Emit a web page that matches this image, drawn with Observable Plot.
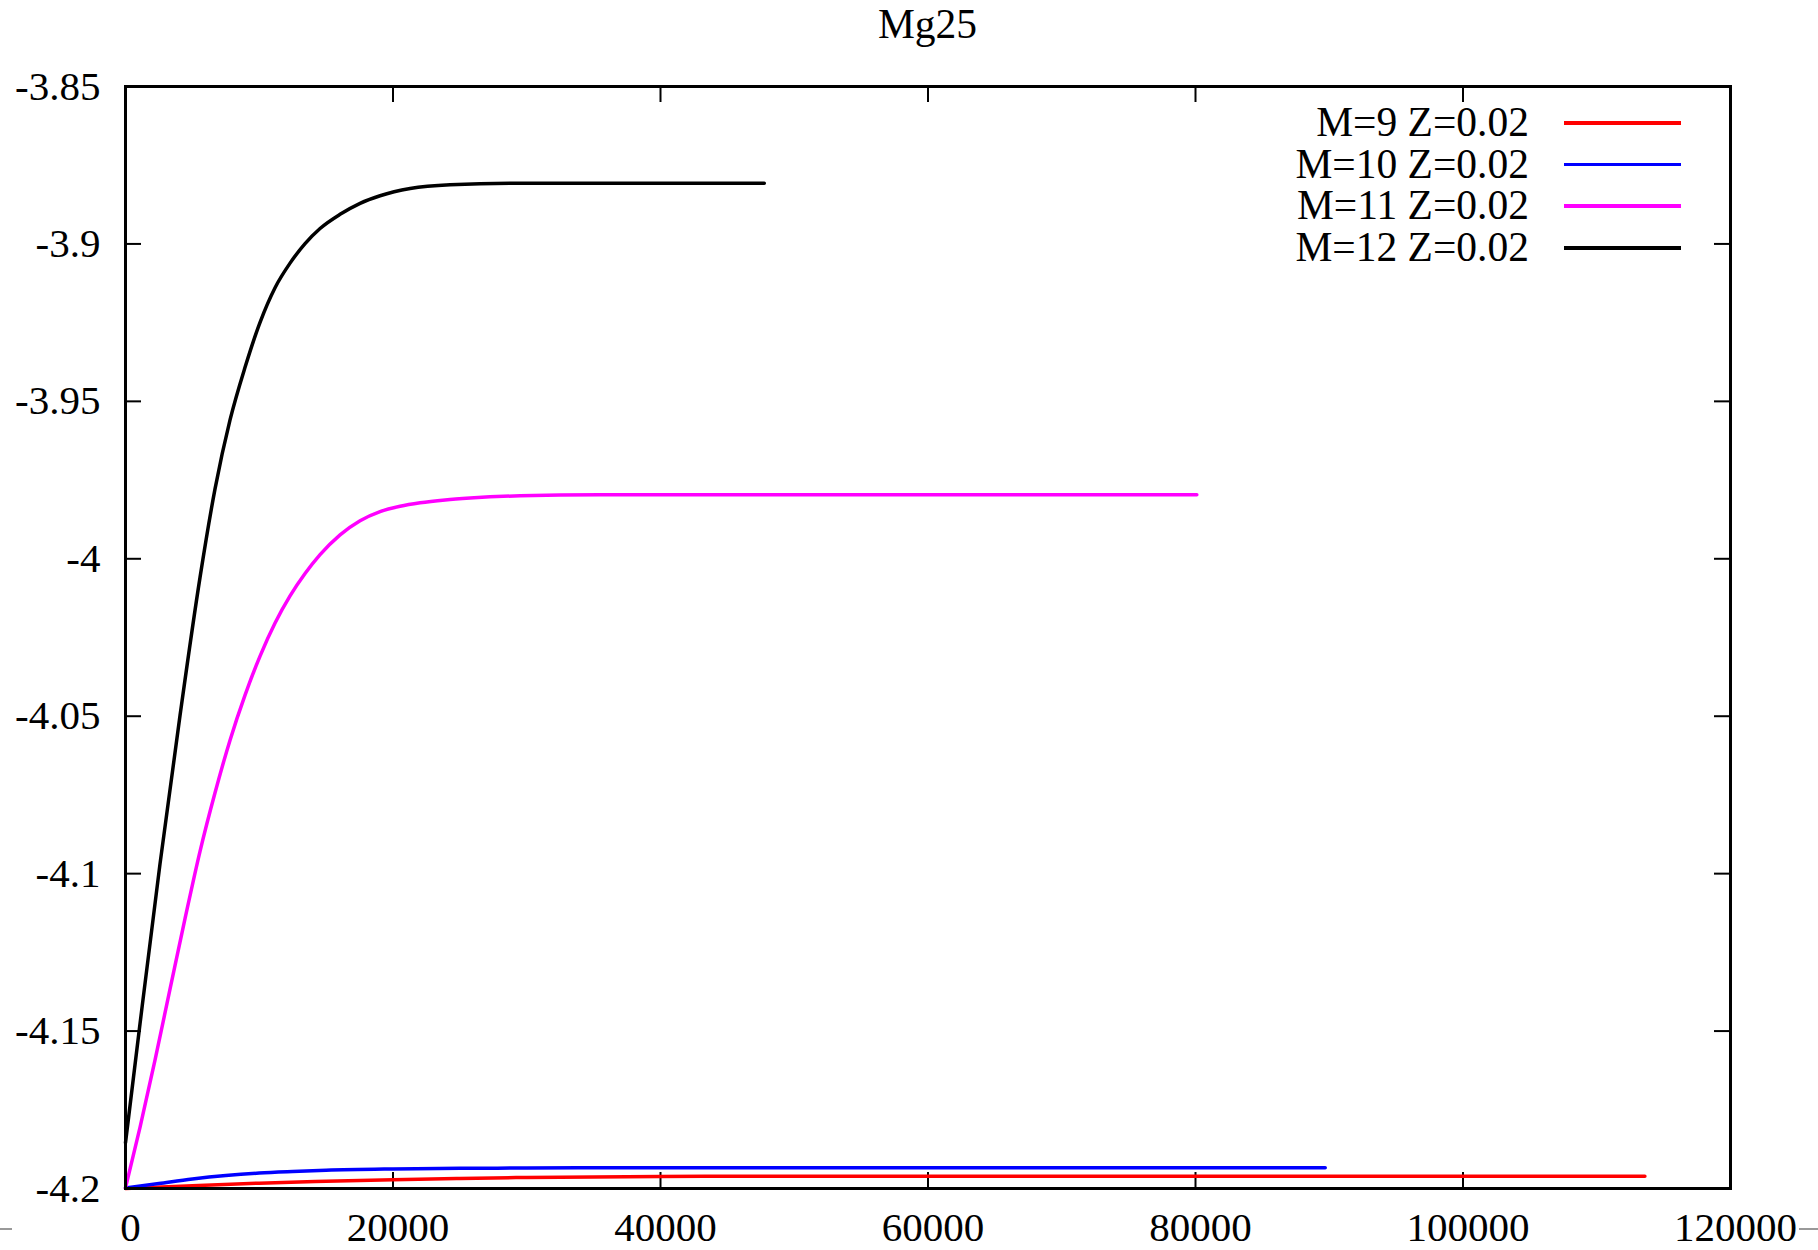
<!DOCTYPE html>
<html>
<head>
<meta charset="utf-8">
<script src="https://cdn.jsdelivr.net/npm/d3@7"></script>
<script src="https://cdn.jsdelivr.net/npm/@observablehq/plot@0.6"></script>
<style>
html, body { margin: 0; padding: 0; background: #fff; }
#wrap { position: relative; width: 1818px; height: 1250px; font-family: "Liberation Serif", "Times New Roman", serif; color: #000; }
#wrap svg { display: block; position: absolute; left: 0; top: 0; }
#title { position: absolute; left: 125px; width: 1605px; top: 4px; text-align: center; font-size: 41.5px; line-height: 40px; }
#legend { position: absolute; right: 137px; top: 102px; font-size: 41.5px; }
.row { display: flex; align-items: center; justify-content: flex-end; height: 41.67px; line-height: 41.67px; white-space: nowrap; }
.sw { display: inline-block; width: 117px; height: 3.5px; margin-left: 35px; }
.dash { position: absolute; height: 2px; background: #999; top: 1228px; }
</style>
</head>
<body>
<div id="wrap">
  <div id="title">Mg25</div>
  <div id="legend"></div>
  <div class="dash" style="left:0;width:12px"></div>
  <div class="dash" style="left:1799px;width:19px"></div>
</div>
<script>
// ---- data ----
const seriesNames  = ["M=9 Z=0.02", "M=10 Z=0.02", "M=11 Z=0.02", "M=12 Z=0.02"];
const seriesColors = ["#ff0000", "#0000ff", "#ff00ff", "#000000"];

const m9X  = [0, 5000, 10000, 15000, 20000, 25000, 30000, 40000, 50000, 70000, 90000, 113600];
const m9Y  = [-4.2, -4.1991, -4.1983, -4.1977, -4.1972, -4.1968, -4.1965, -4.1962, -4.1961, -4.1961, -4.1961, -4.1961];

const m10X = [0, 2500, 5000, 7500, 10000, 12500, 15000, 20000, 25000, 30000, 40000, 60000, 89700];
const m10Y = [-4.1998, -4.1984, -4.1970, -4.1959, -4.1951, -4.1946, -4.1942, -4.1938, -4.1936, -4.1935, -4.1934, -4.1934, -4.1934];

const m11X = [0, 1085, 2206, 3328, 4450, 5572, 6694, 7816, 8938, 10060, 11182, 12303, 13425, 14547, 16043, 17539, 19035, 20530, 22026, 23896, 25766, 29506, 35483, 50000, 80100];
const m11Y = [-4.1998, -4.1806, -4.1592, -4.1367, -4.1143, -4.0929, -4.0743, -4.0576, -4.0433, -4.0309, -4.0204, -4.0118, -4.0047, -3.9987, -3.9924, -3.9879, -3.9850, -3.9833, -3.9822, -3.9813, -3.9807, -3.9800, -3.9797, -3.9797, -3.9797];

const m12X = [0, 1085, 2580, 4076, 5572, 6694, 7816, 8938, 10060, 11182, 12303, 13425, 14547, 16043, 17539, 19035, 21279, 24271, 29506, 38000, 47760];
const m12Y = [-4.1855, -4.1477, -4.0969, -4.0498, -4.0059, -3.9778, -3.9559, -3.9392, -3.9249, -3.9139, -3.9061, -3.8999, -3.8951, -3.8906, -3.8871, -3.8847, -3.8824, -3.8812, -3.8807, -3.8807, -3.8807];

const xTicks = [0, 20000, 40000, 60000, 80000, 100000, 120000];
const xTickLabels = ["0", "20000", "40000", "60000", "80000", "100000", "120000"];
const yTicks = [-4.2, -4.15, -4.1, -4.05, -4, -3.95, -3.9, -3.85];
const yTickLabels = ["-4.2", "-4.15", "-4.1", "-4.05", "-4", "-3.95", "-3.9", "-3.85"];

// ---- build table ----
const allX = [m9X, m10X, m11X, m12X];
const allY = [m9Y, m10Y, m11Y, m12Y];
const rows = [];
seriesNames.forEach((name, s) => {
  allX[s].forEach((x, i) => rows.push({series: name, x, y: allY[s][i]}));
});

const W = 1818, H = 1250, ML = 125, MR = 88, MT = 86, MB = 62;
const innerW = W - ML - MR, innerH = H - MT - MB, TICK = 16;

const plot = Plot.plot({
  width: W,
  height: H,
  marginLeft: ML,
  marginRight: MR,
  marginTop: MT,
  marginBottom: MB,
  style: {fontFamily: "Liberation Serif, Times New Roman, serif", fontSize: "41px", color: "#000", background: "transparent", overflow: "visible"},
  x: {domain: [0, 120000], axis: null},
  y: {domain: [-4.2, -3.85], axis: null},
  color: {domain: seriesNames, range: seriesColors},
  marks: [
    // inward tick marks on all four sides
    Plot.tickX(xTicks, {x: d => d, insetTop: innerH - TICK, stroke: "#000", strokeWidth: 2}),
    Plot.tickX(xTicks, {x: d => d, insetBottom: innerH - TICK, stroke: "#000", strokeWidth: 2}),
    Plot.tickY(yTicks, {y: d => d, insetRight: innerW - TICK, stroke: "#000", strokeWidth: 2}),
    Plot.tickY(yTicks, {y: d => d, insetLeft: innerW - TICK, stroke: "#000", strokeWidth: 2}),
    // tick labels
    Plot.text(xTicks, {x: d => d, text: (d, i) => xTickLabels[i], frameAnchor: "bottom", dy: 52, dx: 5, fontSize: 41, fill: "#000"}),
    Plot.text(yTicks, {y: d => d, text: (d, i) => yTickLabels[i], frameAnchor: "left", textAnchor: "end", dx: -25, fontSize: 41, fill: "#000"}),
    // data lines
    Plot.line(rows, {x: "x", y: "y", z: "series", stroke: "series", strokeWidth: 3.5, curve: "monotone-x"}),
    Plot.frame({stroke: "#000", strokeWidth: 3})
  ]
});

const wrap = document.getElementById("wrap");
wrap.prepend(plot);

// legend (HTML, right-aligned labels with line samples)
const legend = document.getElementById("legend");
seriesNames.forEach((name, i) => {
  const row = document.createElement("div");
  row.className = "row";
  const t = document.createElement("span");
  t.textContent = name;
  const sw = document.createElement("span");
  sw.className = "sw";
  sw.style.background = seriesColors[i];
  row.appendChild(t);
  row.appendChild(sw);
  legend.appendChild(row);
});
</script>
</body>
</html>
